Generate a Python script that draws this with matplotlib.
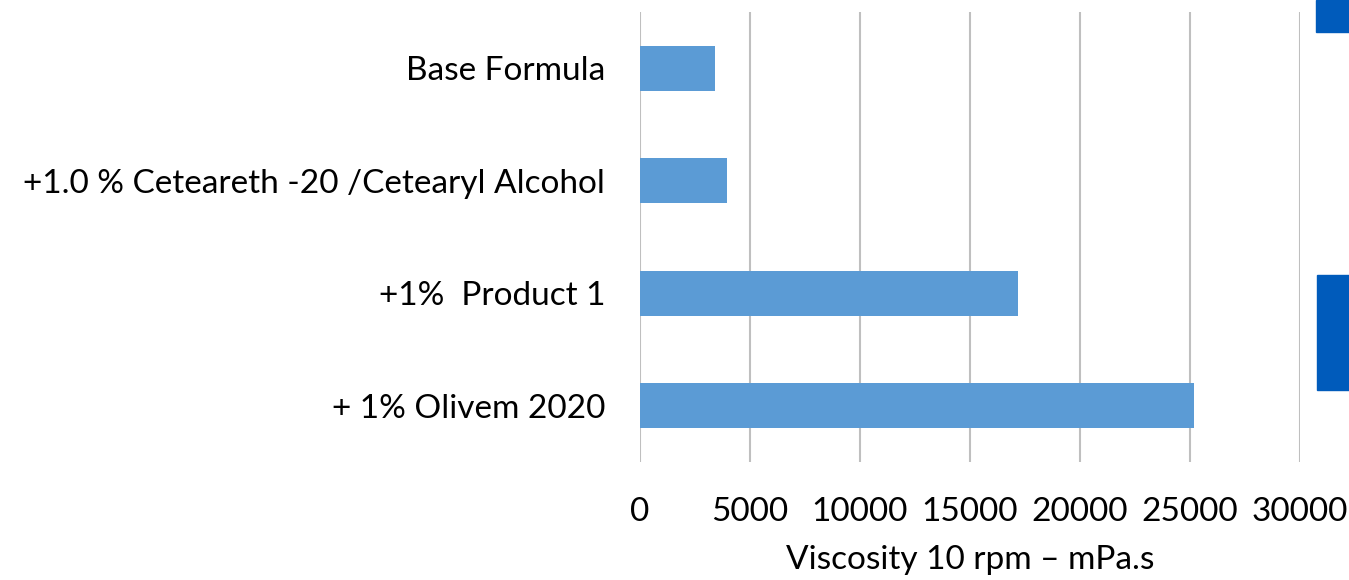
import matplotlib
matplotlib.use("Agg")
import matplotlib.pyplot as plt
from matplotlib.patches import Rectangle

categories = ["+ 1% Olivem 2020", "+1%  Product 1",
              "+1.0 % Ceteareth -20 /Cetearyl Alcohol", "Base Formula"]
values = [25180, 17200, 3950, 3420]
xticks = [0, 5000, 10000, 15000, 20000, 25000, 30000]
xlabel = "Viscosity 10 rpm \u2013 mPa.s"

plt.rcParams['font.family'] = ['Lato', 'DejaVu Sans']

W, H = 1349, 580
fig = plt.figure(figsize=(W / 100, H / 100), dpi=100)
ax = fig.add_axes([640 / W, (H - 462) / H, (1300 - 640) / W, 450 / H])

ax.barh(range(len(categories)), values, height=0.4, color="#5B9BD5", zorder=3)
ax.set_ylim(-0.5, len(categories) - 0.5)
ax.set_xlim(0, 30000)
ax.set_xticks(xticks)
ax.set_xticklabels([str(t) for t in xticks])
ax.set_yticks(range(len(categories)))
ax.set_yticklabels(categories)
ax.grid(axis="x", color="#BFBFBF", linewidth=1.5, zorder=0)
for s in ax.spines.values():
    s.set_visible(False)
ax.tick_params(axis="both", length=0, labelsize=24, colors="#000000")
ax.tick_params(axis="y", pad=25)
ax.tick_params(axis="x", pad=25)
ax.set_xlabel(xlabel, fontsize=24, labelpad=13)

# decorative shapes at right edge
fig.patches.append(Rectangle((1316 / W, (H - 32) / H), 33 / W, 32 / H,
                             transform=fig.transFigure, color="#005BBB"))
fig.patches.append(Rectangle((1317 / W, (H - 390) / H), 32 / W, 115 / H,
                             transform=fig.transFigure, color="#005BBB"))

fig.savefig("out.png", dpi=100, facecolor="white")
